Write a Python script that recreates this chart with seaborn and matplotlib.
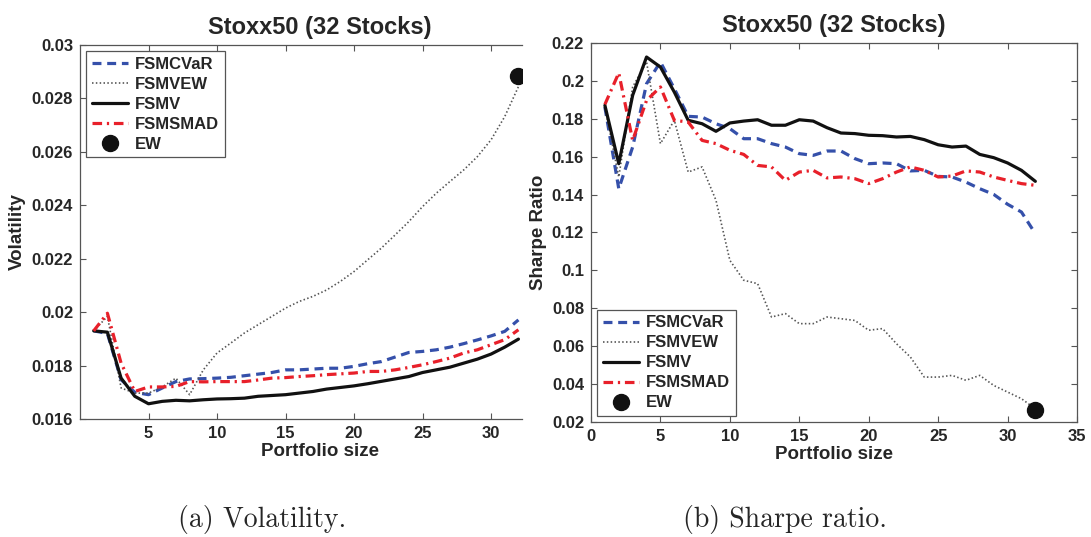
# Stoxx50 (32 Stocks): volatility and Sharpe ratio vs portfolio size
import numpy as np
import pandas as pd
import matplotlib
matplotlib.use('Agg')
import matplotlib.pyplot as plt
from matplotlib.ticker import FuncFormatter, MultipleLocator
import seaborn as sns

sns.set_style('ticks')
plt.rcParams['font.family'] = ['Liberation Sans', 'DejaVu Sans']
plt.rcParams['font.weight'] = 'bold'
plt.rcParams['axes.titleweight'] = 'bold'
plt.rcParams['axes.labelweight'] = 'bold'

# ---- data ----
sizes = list(range(1, 33))

vol_cvar = [0.0193, 0.0192, 0.01747, 0.0170, 0.01691, 0.01716, 0.0174, 0.0175,
            0.01751, 0.01753, 0.01756, 0.01762, 0.01768, 0.01774, 0.01784, 0.01784,
            0.01787, 0.0179, 0.0179, 0.01797, 0.01807, 0.01815, 0.01832, 0.01849,
            0.01853, 0.01859, 0.01869, 0.01882, 0.01896, 0.01911, 0.01928, 0.01971]
vol_vew = [0.0193, 0.01984, 0.01716, 0.01697, 0.01697, 0.0172, 0.01753, 0.01691,
           0.01784, 0.01847, 0.01884, 0.01922, 0.01953, 0.01984, 0.02015, 0.0204,
           0.02059, 0.02083, 0.02115, 0.02152, 0.02196, 0.0224, 0.02289, 0.02339,
           0.02395, 0.02445, 0.02489, 0.02532, 0.02582, 0.02645, 0.02732, 0.02844]
vol_mv = [0.0193, 0.01925, 0.01753, 0.01685, 0.01657, 0.01666, 0.0167, 0.01668,
          0.01672, 0.01675, 0.01676, 0.01678, 0.01685, 0.01688, 0.01691, 0.01697,
          0.01703, 0.01712, 0.01718, 0.01724, 0.01732, 0.01741, 0.0175, 0.01759,
          0.01774, 0.01784, 0.01794, 0.01809, 0.01824, 0.01843, 0.01869, 0.01899]
vol_smad = [0.0193, 0.01996, 0.01809, 0.01703, 0.0172, 0.0172, 0.01722, 0.0174,
            0.01739, 0.0174, 0.0174, 0.0174, 0.01746, 0.01753, 0.01755, 0.01759,
            0.01762, 0.01766, 0.01769, 0.01772, 0.01778, 0.01778, 0.01784, 0.01793,
            0.01803, 0.01815, 0.01828, 0.01847, 0.01859, 0.01878, 0.01897, 0.01934]
vol_ew = 0.02884

sr_cvar = [0.1862, 0.1431, 0.1651, 0.1985, 0.2100, 0.1959, 0.1813, 0.1809,
           0.1774, 0.1748, 0.1695, 0.1695, 0.1669, 0.1651, 0.1616, 0.1607,
           0.1630, 0.1630, 0.1590, 0.1563, 0.1567, 0.1563, 0.1525, 0.1528,
           0.1496, 0.1493, 0.1466, 0.1431, 0.1401, 0.1349, 0.1308, 0.1194]
sr_vew = [0.1862, 0.1493, 0.1968, 0.2100, 0.1669, 0.1792, 0.1519, 0.1546,
          0.1370, 0.1053, 0.0948, 0.0930, 0.0754, 0.0772, 0.0719, 0.0719,
          0.0754, 0.0745, 0.0736, 0.0684, 0.0693, 0.0613, 0.0543, 0.0437,
          0.0437, 0.0446, 0.0420, 0.0446, 0.0393, 0.0358, 0.0323, 0.0270]
sr_mv = [0.1871, 0.1563, 0.1924, 0.2126, 0.2073, 0.1941, 0.1792, 0.1774,
         0.1734, 0.1778, 0.1788, 0.1795, 0.1766, 0.1766, 0.1795, 0.1788,
         0.1753, 0.1725, 0.1722, 0.1713, 0.1711, 0.1704, 0.1707, 0.1690,
         0.1663, 0.1651, 0.1656, 0.1612, 0.1595, 0.1567, 0.1528, 0.1470]
sr_smad = [0.1876, 0.2042, 0.1686, 0.1897, 0.1968, 0.1792, 0.1783, 0.1686,
           0.1669, 0.1634, 0.1612, 0.1554, 0.1546, 0.1475, 0.1519, 0.1528,
           0.1488, 0.1493, 0.1484, 0.1458, 0.1484, 0.1519, 0.1546, 0.1528,
           0.1493, 0.1498, 0.1525, 0.1519, 0.1493, 0.1475, 0.1458, 0.1449]
sr_ew = 0.0262

title = 'Stoxx50 (32 Stocks)'

# line styles (label, color, lw, dashes)
styles = [
    ('FSMCVaR', '#3550aa', 2.3, (2.8, 1.8)),
    ('FSMVEW', '#555555', 1.2, (0.9, 1.4)),
    ('FSMV', '#111111', 2.3, None),
    ('FSMSMAD', '#e8202a', 2.3, (3.0, 1.5, 0.7, 1.5)),
]


def draw_panel(ax, series, ew_val):
    for (name, color, lw, dash), vals in zip(styles, series):
        df = pd.DataFrame({'size': sizes, 'val': vals})
        sns.lineplot(data=df, x='size', y='val', ax=ax, color=color, linewidth=lw, label=name)
        line = ax.get_lines()[-1]
        if dash is not None:
            line.set_dashes(dash)
    ax.plot([sizes[-1]], [ew_val], 'o', color='#111111', markersize=11.5, label='EW', linestyle='none')
    ax.set_xlabel('Portfolio size', fontsize=13.5)
    ax.xaxis.set_major_locator(MultipleLocator(5))
    ax.yaxis.set_major_formatter(FuncFormatter(lambda v, p: f'{v:g}'))
    ax.tick_params(direction='in', length=4, width=0.8, color='#555555', labelsize=12,
                   top=True, right=True, pad=5)
    for t in ax.get_xticklabels() + ax.get_yticklabels():
        t.set_fontweight('bold')
    for s in ax.spines.values():
        s.set_color('#555555')
        s.set_linewidth(0.9)


fig = plt.figure(figsize=(10.91, 5.37), dpi=100)
ax1 = fig.add_axes([80 / 1091, (537 - 419) / 537, 442 / 1091, 374 / 537])
ax2 = fig.add_axes([591 / 1091, (537 - 422) / 537, 486 / 1091, 379 / 537])

# (a) volatility - right part of the subfigure is cut off
draw_panel(ax1, [vol_cvar, vol_vew, vol_mv, vol_smad], vol_ew)
ax1.set_xlim(0, 32.26)
ax1.set_ylim(0.016, 0.03)
ax1.yaxis.set_major_locator(MultipleLocator(0.002))
ax1.set_xticks([5, 10, 15, 20, 25, 30])
ax1.spines['right'].set_visible(False)
ax1.tick_params(right=False)
ax1.set_ylabel('Volatility', fontsize=13.5)
ax1.yaxis.set_label_coords(-0.122, 0.5)
ax1.xaxis.set_label_coords(0.543, -0.064)
ax1.set_title(title, fontsize=17, x=0.543, pad=8)
leg1 = ax1.legend(loc='upper left', fontsize=12, handlelength=2.2, fancybox=False,
                  framealpha=1, edgecolor='#555555', borderaxespad=0.35, labelspacing=0.3,
                  handletextpad=0.4, borderpad=0.35)
leg1.get_frame().set_linewidth(0.9)

# (b) sharpe ratio
draw_panel(ax2, [sr_cvar, sr_vew, sr_mv, sr_smad], sr_ew)
ax2.set_xlim(0, 35)
ax2.set_ylim(0.02, 0.22)
ax2.yaxis.set_major_locator(MultipleLocator(0.02))
ax2.set_ylabel('Sharpe Ratio', fontsize=13.5)
ax2.yaxis.set_label_coords(-0.0905, 0.5)
ax2.xaxis.set_label_coords(0.5, -0.063)
ax2.set_title(title, fontsize=17, pad=8)
leg2 = ax2.legend(loc='lower left', fontsize=12, handlelength=2.2, fancybox=False,
                  framealpha=1, edgecolor='#555555', borderaxespad=0.35, labelspacing=0.3,
                  handletextpad=0.4, borderpad=0.35)
leg2.get_frame().set_linewidth(0.9)

# captions
fig.text(262 / 1091, 1 - 519 / 537, '(a) Volatility.', ha='center', va='center',
         fontsize=20, family='cmr10', fontweight='normal')
fig.text(785 / 1091, 1 - 519 / 537, '(b) Sharpe ratio.', ha='center', va='center',
         fontsize=20, family='cmr10', fontweight='normal')

fig.savefig('out.png', dpi=100)
